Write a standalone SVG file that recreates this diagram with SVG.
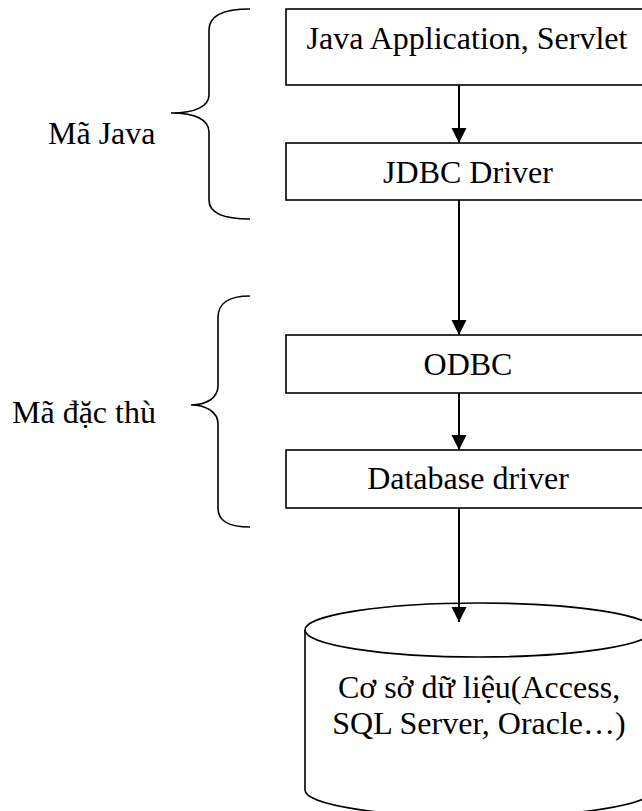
<svg xmlns="http://www.w3.org/2000/svg" width="642" height="811" viewBox="0 0 642 811">
<style>
  .box { fill: #fff; stroke: #000; stroke-width: 1.6; }
  .t { font-family: 'Liberation Serif', 'Times New Roman', 'DejaVu Serif', serif; font-size: 32px; fill: #000; }
  .c { text-anchor: middle; }
  .brace { fill: none; stroke: #000; stroke-width: 1.6; }
  .conn { stroke: #000; stroke-width: 2; fill: none; marker-end: url(#arr); }
</style>
<defs>
  <marker id="arr" markerUnits="userSpaceOnUse" markerWidth="16" markerHeight="16" viewBox="0 0 16 16" refX="15" refY="8" orient="auto">
    <path d="M0,0.5 L15,8 L0,15.5 Z" fill="#000"/>
  </marker>
</defs>
<rect width="642" height="811" fill="#fff"/>

<g id="brace-java">
  <path class="brace" d="M250,9 C224,9 209,15 209,30 L209,95 C209,106 196,113 171,113 C196,113 209,120 209,132 L209,200 C209,213 224,219 250,219"/>
  <text class="t" x="48" y="144" font-family="Liberation Serif, serif">Mã Java</text>
</g>
<g id="brace-native">
  <path class="brace" d="M250,296 C228,296 218,303 218,318 L218,386 C218,398 206,405 191,405 C206,405 218,412 218,424 L218,508 C218,521 228,527 250,527"/>
  <text class="t" x="12" y="423" font-family="Liberation Serif, serif">Mã đặc thù</text>
</g>

<g id="app">
  <rect class="box" x="286" y="9" width="370" height="76"/>
  <text class="t c" x="467" y="49" font-family="Liberation Serif, serif">Java Application, Servlet</text>
</g>
<g id="jdbc">
  <rect class="box" x="286" y="143" width="370" height="57"/>
  <text class="t c" x="468" y="183" font-family="Liberation Serif, serif">JDBC Driver</text>
</g>
<g id="odbc">
  <rect class="box" x="286" y="335" width="370" height="58"/>
  <text class="t c" x="468" y="375" font-family="Liberation Serif, serif">ODBC</text>
</g>
<g id="dbdriver">
  <rect class="box" x="286" y="450" width="370" height="58"/>
  <text class="t c" x="468" y="489" font-family="Liberation Serif, serif">Database driver</text>
</g>
<g id="database">
  <path class="box" d="M305,630 L305,790 A174,27 0 0 0 653,790 L653,630"/>
  <ellipse class="box" cx="479" cy="630" rx="174" ry="27"/>
  <text class="t c" x="479" y="698" font-family="Liberation Serif, serif">Cơ sở dữ liệu(Access,</text>
  <text class="t c" x="479" y="734" font-family="Liberation Serif, serif">SQL Server, Oracle…)</text>
</g>

<g id="connectors">
  <line class="conn" x1="459" y1="85" x2="459" y2="143"/>
  <line class="conn" x1="459" y1="200" x2="459" y2="335"/>
  <line class="conn" x1="459" y1="393" x2="459" y2="450"/>
  <line class="conn" x1="459" y1="508" x2="459" y2="622"/>
</g>
</svg>
